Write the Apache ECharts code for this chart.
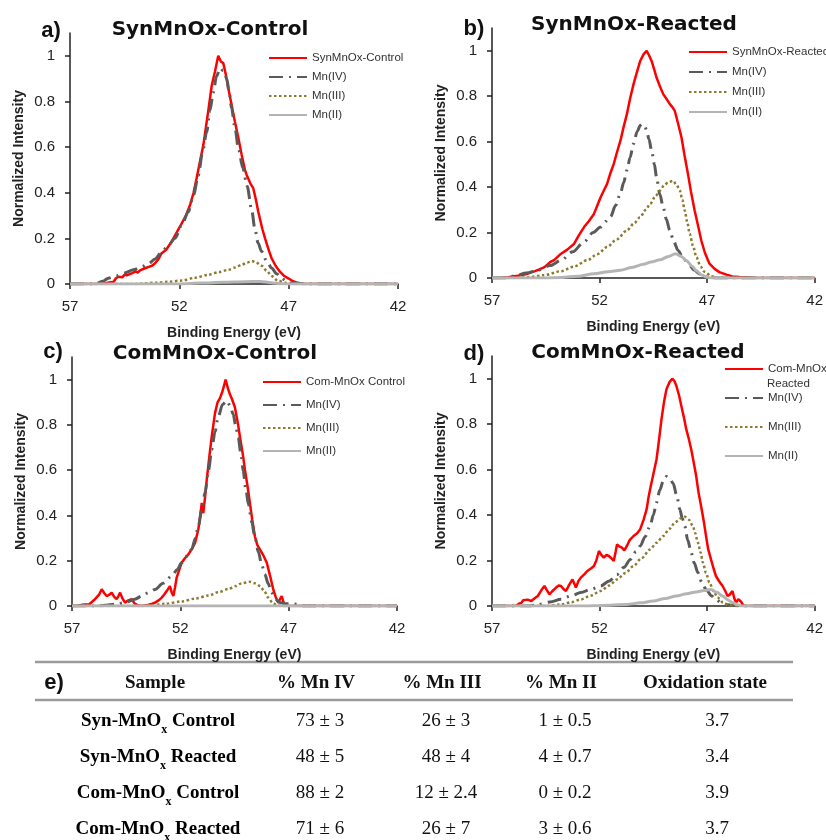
<!DOCTYPE html>
<html>
<head>
<meta charset="utf-8">
<script src="https://cdn.jsdelivr.net/npm/echarts@6/dist/echarts.min.js"></script>
<style>
    html, body {margin: 0; padding: 0; background: #fff;}
    #main {width: 826px; height: 840px;}
</style>
</head>
<body>
<div id="main"></div>
<script>
// ---- spectra, [binding energy eV, normalized intensity] ----
const synCtrlTotal = [[57,0],[55.8,0],[55.4,0.003],[55.0,0.01],[54.9,0.025],[54.79,0.032],[54.6,0.03],[54.5,0.042],[54.4,0.038],[54.18,0.047],[54.0,0.055],[53.9,0.05],[53.8,0.06],[53.57,0.069],[53.4,0.075],[53.25,0.08],[53.11,0.091],[52.95,0.11],[52.81,0.135],[52.6,0.15],[52.35,0.186],[52.1,0.23],[51.89,0.266],[51.7,0.3],[51.51,0.346],[51.35,0.4],[51.21,0.463],[51.05,0.54],[50.9,0.61],[50.78,0.69],[50.68,0.756],[50.52,0.869],[50.37,0.931],[50.22,1.0],[50.1,0.975],[49.99,0.968],[49.88,0.92],[49.76,0.858],[49.6,0.78],[49.46,0.712],[49.3,0.64],[49.15,0.566],[49.0,0.5],[48.92,0.478],[48.75,0.44],[48.62,0.42],[48.5,0.37],[48.39,0.317],[48.2,0.24],[48.08,0.2],[47.9,0.145],[47.78,0.113],[47.6,0.08],[47.4,0.054],[47.2,0.035],[47.02,0.025],[46.8,0.012],[46.64,0.007],[46.3,0],[42,0]];
const synCtrlIV = [[57,0],[56.0,0],[55.8,0.003],[55.5,0.012],[55.25,0.025],[54.9,0.035],[54.5,0.048],[54.1,0.062],[53.72,0.075],[53.4,0.09],[53.11,0.11],[52.8,0.14],[52.5,0.17],[52.2,0.2],[51.9,0.255],[51.59,0.316],[51.35,0.39],[51.13,0.476],[50.95,0.57],[50.75,0.665],[50.6,0.76],[50.45,0.839],[50.3,0.91],[50.14,0.946],[50.0,0.935],[49.83,0.9],[49.72,0.84],[49.61,0.77],[49.45,0.68],[49.3,0.594],[49.1,0.51],[48.9,0.43],[48.7,0.33],[48.54,0.24],[48.4,0.18],[48.24,0.143],[48.0,0.1],[47.78,0.07],[47.55,0.045],[47.33,0.026],[47.1,0.012],[46.9,0.005],[46.5,0.002],[46.0,0],[42,0]];
const synCtrlIII = [[57,0],[54,0],[53.7,0.002],[53.0,0.006],[52.5,0.01],[51.89,0.015],[51.3,0.027],[50.68,0.04],[50.2,0.052],[49.76,0.062],[49.45,0.072],[49.15,0.084],[48.9,0.094],[48.69,0.101],[48.5,0.095],[48.24,0.08],[48.0,0.058],[47.78,0.035],[47.5,0.015],[47.17,0.005],[46.8,0],[42,0]];
const synCtrlII = [[57,0],[52,0],[51,0.004],[50,0.008],[49,0.01],[48.3,0.011],[47.8,0.006],[47.3,0.001],[47,0],[42,0]];

const synReactTotal = [[57,0],[56.6,0],[56.25,0.003],[55.8,0.01],[55.33,0.019],[55.0,0.03],[54.8,0.038],[54.56,0.048],[54.3,0.07],[54.1,0.08],[53.79,0.107],[53.5,0.125],[53.18,0.151],[52.95,0.19],[52.72,0.224],[52.5,0.25],[52.26,0.282],[52.1,0.32],[51.95,0.355],[51.8,0.385],[51.65,0.414],[51.5,0.46],[51.34,0.502],[51.2,0.55],[51.03,0.604],[50.88,0.665],[50.73,0.721],[50.58,0.79],[50.42,0.853],[50.25,0.91],[50.11,0.955],[49.95,0.985],[49.81,0.999],[49.7,0.98],[49.58,0.955],[49.45,0.915],[49.35,0.882],[49.2,0.845],[49.04,0.809],[48.9,0.79],[48.73,0.765],[48.6,0.75],[48.5,0.735],[48.35,0.68],[48.19,0.618],[48.05,0.54],[47.89,0.458],[47.75,0.38],[47.58,0.297],[47.42,0.23],[47.27,0.165],[47.1,0.11],[46.89,0.063],[46.65,0.04],[46.43,0.026],[46.1,0.015],[45.82,0.007],[45.5,0.004],[45.0,0.002],[44.7,0],[42,0]];
const synReactIV = [[57,0],[56.3,0],[55.94,0.01],[55.4,0.022],[54.87,0.034],[54.3,0.055],[53.79,0.078],[53.25,0.115],[52.72,0.159],[52.3,0.2],[51.95,0.224],[51.7,0.25],[51.49,0.27],[51.25,0.32],[51.03,0.372],[50.88,0.42],[50.73,0.474],[50.58,0.53],[50.42,0.591],[50.25,0.645],[50.1,0.672],[50.0,0.677],[49.9,0.67],[49.81,0.648],[49.7,0.61],[49.58,0.56],[49.45,0.5],[49.35,0.443],[49.2,0.37],[49.04,0.311],[48.9,0.26],[48.73,0.209],[48.55,0.16],[48.35,0.121],[48.1,0.085],[47.81,0.055],[47.6,0.035],[47.35,0.018],[47.1,0.006],[46.9,0],[42,0]];
const synReactIII = [[57,0],[56,0],[55.33,0.003],[54.6,0.012],[53.79,0.03],[53.2,0.05],[52.57,0.078],[52.1,0.105],[51.65,0.136],[51.2,0.17],[50.73,0.209],[50.4,0.24],[50.11,0.268],[49.85,0.3],[49.65,0.326],[49.4,0.36],[49.19,0.385],[49.0,0.408],[48.81,0.421],[48.58,0.428],[48.42,0.41],[48.27,0.385],[48.15,0.345],[48.04,0.297],[47.92,0.245],[47.81,0.195],[47.65,0.14],[47.5,0.092],[47.3,0.05],[47.12,0.027],[46.8,0.008],[46.5,0],[42,0]];
const synReactII = [[57,0],[54.5,0],[53.79,0.002],[53,0.008],[52.26,0.019],[51.6,0.027],[51.03,0.034],[50.5,0.046],[49.96,0.06],[49.6,0.07],[49.19,0.08],[48.8,0.095],[48.46,0.107],[48.2,0.095],[47.96,0.076],[47.7,0.052],[47.5,0.032],[47.25,0.013],[47.0,0.003],[46.8,0],[42,0]];

const comCtrlTotal = [[57,0],[56.8,0],[56.55,0.005],[56.2,0.008],[55.94,0.03],[55.75,0.05],[55.63,0.074],[55.5,0.055],[55.4,0.044],[55.28,0.05],[55.17,0.059],[55.05,0.04],[54.94,0.03],[54.85,0.045],[54.78,0.059],[54.68,0.035],[54.55,0.015],[54.4,0.025],[54.25,0.03],[54.1,0.01],[53.95,0.003],[53.78,0],[53.5,0.005],[53.3,0.01],[53.17,0.015],[53.0,0.025],[52.86,0.037],[52.75,0.05],[52.63,0.066],[52.48,0.088],[52.4,0.06],[52.32,0.044],[52.25,0.08],[52.17,0.125],[52.05,0.16],[51.94,0.191],[51.8,0.21],[51.63,0.228],[51.45,0.255],[51.32,0.279],[51.17,0.338],[51.08,0.4],[51.01,0.455],[50.94,0.41],[50.86,0.48],[50.78,0.558],[50.65,0.67],[50.55,0.749],[50.4,0.852],[50.28,0.9],[50.17,0.918],[50.05,0.95],[49.91,1.0],[49.8,0.96],[49.71,0.935],[49.6,0.91],[49.48,0.877],[49.35,0.81],[49.25,0.749],[49.1,0.66],[49.02,0.602],[48.9,0.53],[48.79,0.455],[48.68,0.38],[48.56,0.308],[48.45,0.27],[48.32,0.249],[48.15,0.22],[48.01,0.191],[47.85,0.13],[47.71,0.073],[47.6,0.04],[47.48,0.015],[47.4,0.03],[47.32,0.044],[47.25,0.02],[47.17,0],[42,0]];
const comCtrlIV = [[57,0],[55.8,0],[55.5,0.003],[55.0,0.008],[54.55,0.015],[54.1,0.03],[53.78,0.044],[53.45,0.06],[53.17,0.073],[52.8,0.1],[52.4,0.132],[52.15,0.16],[51.94,0.191],[51.7,0.22],[51.48,0.25],[51.3,0.3],[51.17,0.353],[51.0,0.43],[50.86,0.5],[50.7,0.6],[50.55,0.69],[50.4,0.77],[50.25,0.837],[50.05,0.89],[49.86,0.907],[49.7,0.885],[49.56,0.848],[49.45,0.8],[49.33,0.745],[49.2,0.67],[49.1,0.598],[48.98,0.52],[48.86,0.45],[48.7,0.37],[48.56,0.304],[48.4,0.24],[48.25,0.186],[48.1,0.14],[47.94,0.098],[47.8,0.062],[47.63,0.032],[47.4,0.015],[47.17,0.01],[46.9,0.009],[46.56,0.008],[46.4,0],[42,0]];
const comCtrlIII = [[57,0],[53.8,0],[53.4,0.002],[52.7,0.01],[51.94,0.02],[51.3,0.033],[50.71,0.046],[50.2,0.062],[49.79,0.075],[49.45,0.088],[49.17,0.1],[48.79,0.107],[48.55,0.1],[48.32,0.088],[48.12,0.065],[47.94,0.037],[47.75,0.015],[47.55,0.003],[47.3,0],[42,0]];
const comCtrlII = [[57,0],[49.5,0],[42,0]];

const comReactTotal = [[57,0],[55.9,0],[55.75,0.01],[55.63,0.014],[55.55,0.025],[55.48,0.032],[55.35,0.028],[55.17,0.022],[55.0,0.035],[54.87,0.044],[54.7,0.07],[54.56,0.088],[54.45,0.07],[54.33,0.051],[54.2,0.065],[54.02,0.081],[53.9,0.09],[53.79,0.088],[53.68,0.075],[53.56,0.066],[53.4,0.095],[53.26,0.117],[53.18,0.1],[53.1,0.081],[52.98,0.11],[52.87,0.125],[52.7,0.14],[52.57,0.154],[52.4,0.165],[52.26,0.176],[52.15,0.2],[52.03,0.242],[51.92,0.225],[51.8,0.213],[51.68,0.225],[51.57,0.22],[51.45,0.21],[51.34,0.198],[51.25,0.24],[51.19,0.271],[51.08,0.262],[50.96,0.257],[50.85,0.245],[50.73,0.264],[50.6,0.29],[50.42,0.308],[50.25,0.32],[50.11,0.338],[49.95,0.38],[49.81,0.426],[49.72,0.48],[49.65,0.514],[49.5,0.58],[49.35,0.646],[49.25,0.72],[49.12,0.822],[49.0,0.9],[48.89,0.954],[48.75,0.985],[48.62,1.0],[48.52,0.99],[48.43,0.969],[48.3,0.925],[48.2,0.881],[48.08,0.83],[47.97,0.778],[47.85,0.735],[47.74,0.69],[47.62,0.63],[47.51,0.573],[47.4,0.5],[47.28,0.44],[47.15,0.37],[47.05,0.308],[46.95,0.25],[46.82,0.205],[46.7,0.165],[46.59,0.132],[46.45,0.11],[46.28,0.088],[46.15,0.065],[46.05,0.044],[45.95,0.05],[45.82,0.066],[45.74,0.035],[45.66,0.015],[45.55,0.03],[45.43,0.02],[45.3,0],[42,0]];
const comReactIV = [[57,0],[55.3,0],[54.9,0.005],[54.3,0.018],[53.79,0.03],[53.3,0.045],[52.87,0.059],[52.4,0.073],[51.95,0.088],[51.55,0.11],[51.19,0.139],[50.87,0.17],[50.57,0.205],[50.3,0.24],[50.11,0.264],[49.88,0.305],[49.65,0.352],[49.5,0.4],[49.35,0.455],[49.2,0.51],[49.04,0.55],[48.89,0.57],[48.75,0.565],[48.58,0.54],[48.42,0.49],[48.27,0.426],[48.15,0.385],[48.04,0.352],[47.9,0.29],[47.74,0.235],[47.6,0.19],[47.43,0.147],[47.25,0.105],[47.05,0.073],[46.8,0.045],[46.59,0.029],[46.35,0.015],[46.13,0.007],[45.8,0.002],[45.4,0],[42,0]];
const comReactIII = [[57,0],[54.5,0],[53.79,0.007],[53.3,0.017],[52.87,0.029],[52.4,0.046],[51.95,0.066],[51.55,0.09],[51.19,0.117],[50.8,0.145],[50.42,0.176],[50.05,0.21],[49.65,0.249],[49.35,0.278],[49.04,0.308],[48.75,0.34],[48.5,0.367],[48.25,0.385],[48.04,0.393],[47.85,0.38],[47.66,0.352],[47.55,0.32],[47.43,0.279],[47.3,0.235],[47.2,0.191],[47.05,0.145],[46.89,0.103],[46.7,0.065],[46.51,0.037],[46.25,0.015],[45.98,0.003],[45.7,0],[42,0]];
const comReactII = [[57,0],[52.8,0],[52.26,0.001],[51.5,0.003],[50.73,0.007],[50.1,0.014],[49.5,0.022],[48.95,0.033],[48.43,0.044],[47.95,0.054],[47.51,0.062],[47.15,0.068],[46.82,0.073],[46.55,0.06],[46.28,0.044],[46.05,0.028],[45.82,0.015],[45.6,0.006],[45.4,0],[42,0]];

const yTicks = [0, 0.2, 0.4, 0.6, 0.8, 1];

// ---- table e) ----
const tableHeaders = ['Sample', '% Mn IV', '% Mn III', '% Mn II', 'Oxidation state'];
const sampleNames = [['Syn-MnO', 'Control'], ['Syn-MnO', 'Reacted'], ['Com-MnO', 'Control'], ['Com-MnO', 'Reacted']];
const pctMnIV = ['73 ± 3', '48 ± 5', '88 ± 2', '71 ± 6'];
const pctMnIII = ['26 ± 3', '48 ± 4', '12 ± 2.4', '26 ± 7'];
const pctMnII = ['1 ± 0.5', '4 ± 0.7', '0 ± 0.2', '3 ± 0.6'];
const oxState = ['3.7', '3.4', '3.9', '3.7'];

const SANS = 'Liberation Sans, Arial, sans-serif';
const SERIF = 'Liberation Serif, Times New Roman, serif';

const styles = {
    total: {color: '#ff0000', width: 2.5, type: 'solid'},
    iv: {color: '#5a5a5a', width: 3, type: [14, 6, 2, 6]},
    iii: {color: '#8c7b2f', width: 2.5, type: [2.5, 2.5]},
    ii: {color: '#b4b4b4', width: 3, type: 'solid'}
};

// panel layout (grids in px)
const panels = [
    {letter: 'a)', title: 'SynMnOx-Control', totalName: 'SynMnOx-Control', grid: {left: 70, top: 33, width: 328, height: 251},
        data: [synCtrlTotal, synCtrlIV, synCtrlIII, synCtrlII], legend: {left: 268, top: 52, gap: 7},
        letterPos: [51, 31], titlePos: [210, 30]},
    {letter: 'b)', title: 'SynMnOx-Reacted', totalName: 'SynMnOx-Reacted', grid: {left: 492, top: 28, width: 326, height: 250},
        data: [synReactTotal, synReactIV, synReactIII, synReactII], legend: {left: 688, top: 46, gap: 8},
        letterPos: [474, 29], titlePos: [634, 25]},
    {letter: 'c)', title: 'ComMnOx-Control', totalName: 'Com-MnOx Control', grid: {left: 72, top: 357, width: 325, height: 249},
        data: [comCtrlTotal, comCtrlIV, comCtrlIII, comCtrlII], legend: {left: 262, top: 376, gap: 11},
        letterPos: [53, 352], titlePos: [215, 354]},
    {letter: 'd)', title: 'ComMnOx-Reacted', totalName: 'Com-MnOx Reacted', grid: {left: 492, top: 356, width: 326, height: 250},
        data: [comReactTotal, comReactIV, comReactIII, comReactII], legend: {left: 724, top: 363, gap: 17},
        letterPos: [474, 354], titlePos: [638, 353]}
];

const grids = [], xAxes = [], yAxes = [], series = [], legends = [], graphics = [];

panels.forEach(function (p, i) {
    grids.push(p.grid);
    xAxes.push({
        gridIndex: i, type: 'value', min: 42, max: 57, interval: 5, inverse: true,
        axisLine: {onZero: false, lineStyle: {color: '#222', width: 1.5}},
        axisTick: {show: true, length: 5, lineStyle: {color: '#222', width: 1.5}},
        axisLabel: {fontSize: 15, color: '#222', margin: 15, fontFamily: SANS},
        splitLine: {show: false},
        name: 'Binding Energy (eV)', nameLocation: 'middle', nameGap: 42,
        nameTextStyle: {fontSize: 14, fontWeight: 'bold', color: '#222', fontFamily: SANS}
    });
    // second axis only for the tick marks crossing the baseline
    xAxes.push({
        gridIndex: i, type: 'value', min: 42, max: 57, interval: 5, inverse: true,
        axisLine: {show: false},
        axisTick: {show: true, inside: true, length: 5, lineStyle: {color: '#222', width: 1.5}},
        axisLabel: {show: false}, splitLine: {show: false}
    });
    yAxes.push({
        gridIndex: i, type: 'value', min: 0, max: 1.1,
        axisLine: {show: true, lineStyle: {color: '#222', width: 1.5}},
        axisTick: {show: true, length: 5, customValues: yTicks, lineStyle: {color: '#222', width: 1.5}},
        axisLabel: {fontSize: 15, color: '#222', margin: 15, fontFamily: SANS, customValues: yTicks},
        splitLine: {show: false},
        name: 'Normalized Intensity', nameLocation: 'middle', nameGap: 44,
        nameTextStyle: {fontSize: 14, fontWeight: 'bold', color: '#222', fontFamily: SANS}
    });

    const names = [p.totalName, 'Mn(IV)', 'Mn(III)', 'Mn(II)'];
    const keys = ['total', 'iv', 'iii', 'ii'];
    names.forEach(function (n, k) {
        const st = styles[keys[k]];
        series.push({
            name: n, type: 'line', xAxisIndex: i * 2, yAxisIndex: i,
            data: p.data[k], symbol: 'none', showSymbol: false,
            smooth: k === 0 ? false : 0.3, smoothMonotone: 'x',
            lineStyle: {color: st.color, width: st.width, type: st.type},
            itemStyle: {color: st.color},
            z: 2 + k, animation: false
        });
    });

    legends.push({
        data: names, orient: 'vertical', left: p.legend.left, top: p.legend.top, padding: 0,
        itemWidth: 38, itemHeight: 14, itemGap: p.legend.gap, selectedMode: false,
        itemStyle: {opacity: 0},
        textStyle: {fontSize: 11.5, color: '#333', fontFamily: SANS},
        formatter: function (name) {
            return name === 'Com-MnOx Reacted' ? 'Com-MnOx' : name;
        }
    });

    graphics.push({
        type: 'text', x: p.letterPos[0], y: p.letterPos[1],
        style: {text: p.letter, font: 'bold 22px ' + SANS, fill: '#111', textAlign: 'center', textVerticalAlign: 'middle', align: 'center', verticalAlign: 'middle'}
    });
    graphics.push({
        type: 'text', x: p.titlePos[0], y: p.titlePos[1],
        style: {text: p.title, font: 'bold 20px DejaVu Sans, sans-serif', fill: '#111', textAlign: 'center', textVerticalAlign: 'middle', align: 'center', verticalAlign: 'middle'}
    });
});

// second line of the d) legend label
graphics.push({
    type: 'text', x: 767, y: 384,
    style: {text: 'Reacted', font: '11.5px ' + SANS, fill: '#333', textAlign: 'left', textVerticalAlign: 'middle', align: 'left', verticalAlign: 'middle'}
});

// ---- table ----
const tableLeft = 35, tableRight = 793;
[662, 700].forEach(function (yy) {
    graphics.push({type: 'line', shape: {x1: tableLeft, y1: yy, x2: tableRight, y2: yy}, style: {stroke: '#9a9a9a', lineWidth: 2.5}});
});
graphics.push({
    type: 'text', x: 54, y: 683,
    style: {text: 'e)', font: 'bold 22px ' + SANS, fill: '#111', textAlign: 'center', textVerticalAlign: 'middle', align: 'center', verticalAlign: 'middle'}
});
const colX = [155, 316, 442, 561, 705];
const headY = 683;
const rowY = [721, 757, 793, 829];
const TFS = 19;
tableHeaders.forEach(function (h, c) {
    graphics.push({
        type: 'text', x: colX[c], y: headY,
        style: {text: h, font: 'bold ' + TFS + 'px ' + SERIF, fill: '#111', textAlign: 'center', textVerticalAlign: 'middle', align: 'center', verticalAlign: 'middle'}
    });
});
const valueCols = [pctMnIV, pctMnIII, pctMnII, oxState];
rowY.forEach(function (yy, r) {
    graphics.push({
        type: 'text', x: colX[0] + 3, y: yy,
        style: {
            text: '{b|' + sampleNames[r][0] + '}{s|x}{b| ' + sampleNames[r][1] + '}',
            textAlign: 'center', textVerticalAlign: 'middle', align: 'center', verticalAlign: 'middle',
            rich: {
                b: {fontSize: TFS, fontWeight: 'bold', fontFamily: SERIF, color: '#111', lineHeight: 24, verticalAlign: 'middle'},
                s: {fontSize: 12, fontWeight: 'bold', fontFamily: SERIF, color: '#111', lineHeight: 24, verticalAlign: 'bottom', padding: [0, 0, -3, 0]}
            }
        }
    });
    valueCols.forEach(function (col, c) {
        graphics.push({
            type: 'text', x: colX[c + 1] + (c === 3 ? 12 : 4), y: yy,
            style: {text: col[r], font: TFS + 'px ' + SERIF, fill: '#111', textAlign: 'center', textVerticalAlign: 'middle', align: 'center', verticalAlign: 'middle'}
        });
    });
});

const chart = echarts.init(document.getElementById('main'), null, {renderer: 'canvas'});
chart.setOption({
    backgroundColor: '#fff',
    animation: false,
    grid: grids,
    xAxis: xAxes,
    yAxis: yAxes,
    legend: legends,
    series: series,
    graphic: graphics
});
</script>
</body>
</html>
